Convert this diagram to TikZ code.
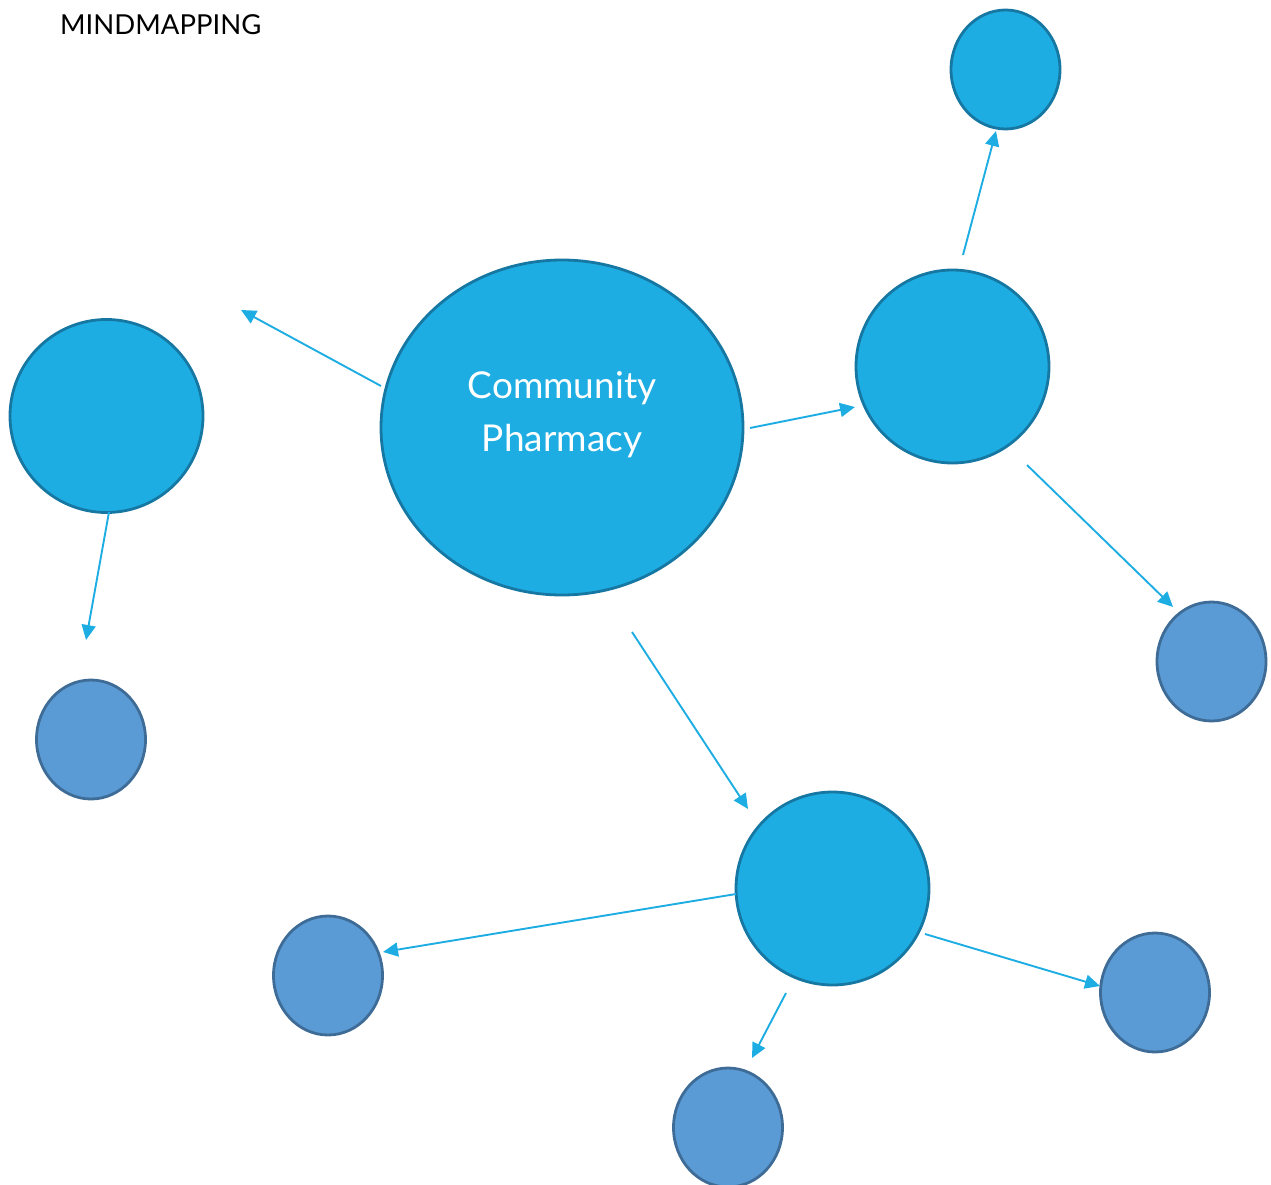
\documentclass[tikz,border=0pt]{standalone}
\usepackage{fontspec}
\setmainfont{Lato}
\usetikzlibrary{arrows.meta}
\definecolor{lightfill}{RGB}{30,173,226}
\definecolor{lightborder}{RGB}{22,120,162}
\definecolor{darkfill}{RGB}{91,155,213}
\definecolor{darkborder}{RGB}{62,108,150}
\definecolor{arrowcol}{RGB}{30,173,226}
\begin{document}
\begin{tikzpicture}[x=1pt,y=-1pt,
  lightbubble/.style={circle, draw=lightborder, fill=lightfill, line width=2.8pt, inner sep=0pt},
  darkbubble/.style={circle, draw=darkborder, fill=darkfill, line width=2.8pt, inner sep=0pt, minimum size=109pt, yscale=119/109},
  link/.style={draw=arrowcol, line width=1.9pt, -{Triangle[length=15pt,width=14pt]}}
]
\useasboundingbox (0,0) rectangle (1271,1185);
\clip (0,0) rectangle (1271,1185);
% central
\node[lightbubble, minimum size=335pt, xscale=362/335] (center) at (562,427.5) {};
\node[font=\fontsize{37}{53}\selectfont, text=white, align=center] (centertext) at (562,414.5) {Community\\Pharmacy};
% first level
\node[lightbubble, minimum size=193pt] (left) at (106.5,416) {};
\node[lightbubble, minimum size=193pt] (right) at (952.5,366.5) {};
\node[lightbubble, minimum size=193pt] (bottom) at (832.5,888.5) {};
\node[lightbubble, minimum size=109pt, yscale=119/109] (top) at (1005.5,69.5) {};
% second level
\node[darkbubble] (rsmall) at (1211.5,661.5) {};
\node[darkbubble] (lsmall) at (91,739.5) {};
\node[darkbubble] (blsmall) at (328,975.5) {};
\node[darkbubble] (brsmall) at (1155,992.5) {};
\node[darkbubble] (bsmall) at (728,1127.5) {};
% title
\node[font=\fontsize{27.5}{33}\selectfont, anchor=west, inner sep=0pt] (title) at (60,25) {MINDMAPPING};
% arrow end points
\coordinate (a1s) at (381,386); \coordinate (a1e) at (241,310);
\coordinate (a2s) at (750,428); \coordinate (a2e) at (855,407);
\coordinate (a3s) at (963,255); \coordinate (a3e) at (996,131);
\coordinate (a4s) at (1027,465); \coordinate (a4e) at (1173,607);
\coordinate (a5s) at (109,512); \coordinate (a5e) at (86,640);
\coordinate (a6s) at (632,632); \coordinate (a6e) at (748,809);
\coordinate (a7s) at (736,894); \coordinate (a7e) at (383,952);
\coordinate (a8s) at (925,934); \coordinate (a8e) at (1100,986);
\coordinate (a9s) at (786,993); \coordinate (a9e) at (752,1058);
\foreach \i in {1,...,9} {\draw[link] (a\i s) -- (a\i e);}
\end{tikzpicture}
\end{document}
